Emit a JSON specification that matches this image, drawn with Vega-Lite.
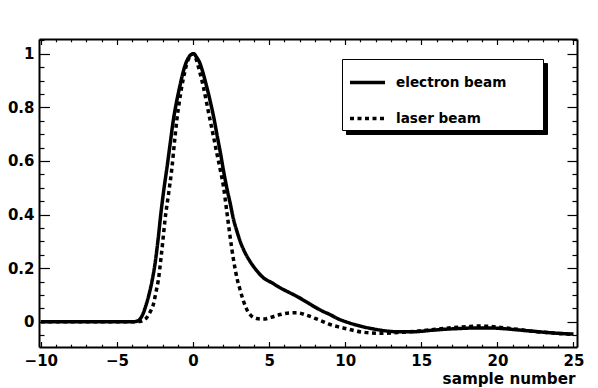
{
  "$schema": "https://vega.github.io/schema/vega-lite/v6.json",
  "width": 538,
  "height": 308,
  "autosize": "none",
  "padding": {"left": 39, "top": 39, "right": 21, "bottom": 41},
  "background": "white",
  "config": {
    "view": {"stroke": null},
    "font": "Liberation Sans",
    "axis": {
      "domainColor": "black",
      "domainWidth": 2,
      "tickColor": "black",
      "tickWidth": 1.2,
      "labelFont": "DejaVu Sans",
      "labelFontWeight": "bold",
      "labelFontSize": 15,
      "labelColor": "black",
      "labelOverlap": false,
      "labelFlush": false,
      "grid": false,
      "titleFont": "DejaVu Sans",
      "titleFontWeight": "bold",
      "titleColor": "black"
    }
  },
  "data": {
    "values": [
      {"beam": "electron beam", "x": -10, "y": 0},
      {"beam": "electron beam", "x": -8, "y": 0},
      {"beam": "electron beam", "x": -6, "y": 0},
      {"beam": "electron beam", "x": -4.5, "y": 0},
      {"beam": "electron beam", "x": -4, "y": 0},
      {"beam": "electron beam", "x": -3.7, "y": 0.002},
      {"beam": "electron beam", "x": -3.5, "y": 0.009},
      {"beam": "electron beam", "x": -3.3, "y": 0.028},
      {"beam": "electron beam", "x": -3.1, "y": 0.06},
      {"beam": "electron beam", "x": -2.9, "y": 0.1},
      {"beam": "electron beam", "x": -2.7, "y": 0.15},
      {"beam": "electron beam", "x": -2.5, "y": 0.215},
      {"beam": "electron beam", "x": -2.3, "y": 0.305},
      {"beam": "electron beam", "x": -2.1, "y": 0.41},
      {"beam": "electron beam", "x": -1.9, "y": 0.5},
      {"beam": "electron beam", "x": -1.7, "y": 0.58},
      {"beam": "electron beam", "x": -1.5, "y": 0.665},
      {"beam": "electron beam", "x": -1.3, "y": 0.75},
      {"beam": "electron beam", "x": -1.1, "y": 0.815},
      {"beam": "electron beam", "x": -0.9, "y": 0.87},
      {"beam": "electron beam", "x": -0.7, "y": 0.92},
      {"beam": "electron beam", "x": -0.5, "y": 0.96},
      {"beam": "electron beam", "x": -0.3, "y": 0.985},
      {"beam": "electron beam", "x": -0.1, "y": 0.998},
      {"beam": "electron beam", "x": 0.05, "y": 1.0},
      {"beam": "electron beam", "x": 0.2, "y": 0.99},
      {"beam": "electron beam", "x": 0.45, "y": 0.965},
      {"beam": "electron beam", "x": 0.7, "y": 0.92},
      {"beam": "electron beam", "x": 0.9, "y": 0.877},
      {"beam": "electron beam", "x": 1.1, "y": 0.83},
      {"beam": "electron beam", "x": 1.35, "y": 0.766},
      {"beam": "electron beam", "x": 1.6, "y": 0.69},
      {"beam": "electron beam", "x": 1.8, "y": 0.63},
      {"beam": "electron beam", "x": 2.0, "y": 0.565},
      {"beam": "electron beam", "x": 2.2, "y": 0.505},
      {"beam": "electron beam", "x": 2.45, "y": 0.44},
      {"beam": "electron beam", "x": 2.65, "y": 0.385},
      {"beam": "electron beam", "x": 2.9, "y": 0.335},
      {"beam": "electron beam", "x": 3.1, "y": 0.3},
      {"beam": "electron beam", "x": 3.4, "y": 0.26},
      {"beam": "electron beam", "x": 3.75, "y": 0.225},
      {"beam": "electron beam", "x": 4.2, "y": 0.19},
      {"beam": "electron beam", "x": 4.63, "y": 0.164},
      {"beam": "electron beam", "x": 5.2, "y": 0.145},
      {"beam": "electron beam", "x": 5.72, "y": 0.127},
      {"beam": "electron beam", "x": 6.3, "y": 0.11},
      {"beam": "electron beam", "x": 6.82, "y": 0.095},
      {"beam": "electron beam", "x": 7.4, "y": 0.076},
      {"beam": "electron beam", "x": 7.92, "y": 0.058},
      {"beam": "electron beam", "x": 8.5, "y": 0.04},
      {"beam": "electron beam", "x": 9.0, "y": 0.027},
      {"beam": "electron beam", "x": 9.5, "y": 0.012},
      {"beam": "electron beam", "x": 10.1, "y": -0.001},
      {"beam": "electron beam", "x": 10.6, "y": -0.01},
      {"beam": "electron beam", "x": 11.2, "y": -0.019},
      {"beam": "electron beam", "x": 11.8, "y": -0.026},
      {"beam": "electron beam", "x": 12.3, "y": -0.031},
      {"beam": "electron beam", "x": 13.4, "y": -0.037},
      {"beam": "electron beam", "x": 14.5, "y": -0.037},
      {"beam": "electron beam", "x": 15.6, "y": -0.032},
      {"beam": "electron beam", "x": 16.5, "y": -0.028},
      {"beam": "electron beam", "x": 17.5, "y": -0.025},
      {"beam": "electron beam", "x": 18.5, "y": -0.023},
      {"beam": "electron beam", "x": 19.5, "y": -0.023},
      {"beam": "electron beam", "x": 20.5, "y": -0.026},
      {"beam": "electron beam", "x": 21.5, "y": -0.031},
      {"beam": "electron beam", "x": 22.5, "y": -0.036},
      {"beam": "electron beam", "x": 23.5, "y": -0.041},
      {"beam": "electron beam", "x": 24.3, "y": -0.044},
      {"beam": "electron beam", "x": 25, "y": -0.046},
      {"beam": "laser beam", "x": -10, "y": 0},
      {"beam": "laser beam", "x": -8, "y": 0},
      {"beam": "laser beam", "x": -6, "y": 0},
      {"beam": "laser beam", "x": -4.5, "y": 0},
      {"beam": "laser beam", "x": -4, "y": 0},
      {"beam": "laser beam", "x": -3.5, "y": 0.001},
      {"beam": "laser beam", "x": -3.2, "y": 0.008},
      {"beam": "laser beam", "x": -3.05, "y": 0.015},
      {"beam": "laser beam", "x": -2.9, "y": 0.028},
      {"beam": "laser beam", "x": -2.72, "y": 0.048},
      {"beam": "laser beam", "x": -2.6, "y": 0.066},
      {"beam": "laser beam", "x": -2.5, "y": 0.092},
      {"beam": "laser beam", "x": -2.4, "y": 0.12},
      {"beam": "laser beam", "x": -2.28, "y": 0.155},
      {"beam": "laser beam", "x": -2.1, "y": 0.24},
      {"beam": "laser beam", "x": -1.95, "y": 0.32},
      {"beam": "laser beam", "x": -1.84, "y": 0.38},
      {"beam": "laser beam", "x": -1.6, "y": 0.48},
      {"beam": "laser beam", "x": -1.4, "y": 0.567},
      {"beam": "laser beam", "x": -1.2, "y": 0.68},
      {"beam": "laser beam", "x": -1.07, "y": 0.75},
      {"beam": "laser beam", "x": -0.9, "y": 0.82},
      {"beam": "laser beam", "x": -0.74, "y": 0.877},
      {"beam": "laser beam", "x": -0.55, "y": 0.93},
      {"beam": "laser beam", "x": -0.41, "y": 0.963},
      {"beam": "laser beam", "x": -0.2, "y": 0.99},
      {"beam": "laser beam", "x": 0, "y": 1.0},
      {"beam": "laser beam", "x": 0.2, "y": 0.98},
      {"beam": "laser beam", "x": 0.45, "y": 0.93},
      {"beam": "laser beam", "x": 0.68, "y": 0.877},
      {"beam": "laser beam", "x": 0.9, "y": 0.815},
      {"beam": "laser beam", "x": 1.12, "y": 0.753},
      {"beam": "laser beam", "x": 1.35, "y": 0.69},
      {"beam": "laser beam", "x": 1.56, "y": 0.63},
      {"beam": "laser beam", "x": 1.8, "y": 0.565},
      {"beam": "laser beam", "x": 2.0, "y": 0.505},
      {"beam": "laser beam", "x": 2.2, "y": 0.42},
      {"beam": "laser beam", "x": 2.43, "y": 0.32},
      {"beam": "laser beam", "x": 2.65, "y": 0.235},
      {"beam": "laser beam", "x": 2.9, "y": 0.16},
      {"beam": "laser beam", "x": 3.09, "y": 0.12},
      {"beam": "laser beam", "x": 3.3, "y": 0.08},
      {"beam": "laser beam", "x": 3.5, "y": 0.05},
      {"beam": "laser beam", "x": 3.75, "y": 0.027},
      {"beam": "laser beam", "x": 4.2, "y": 0.012},
      {"beam": "laser beam", "x": 4.63, "y": 0.01},
      {"beam": "laser beam", "x": 5.2, "y": 0.018},
      {"beam": "laser beam", "x": 5.72, "y": 0.027},
      {"beam": "laser beam", "x": 6.3, "y": 0.033},
      {"beam": "laser beam", "x": 6.82, "y": 0.034},
      {"beam": "laser beam", "x": 7.4, "y": 0.026},
      {"beam": "laser beam", "x": 7.92, "y": 0.015},
      {"beam": "laser beam", "x": 8.5, "y": 0.002},
      {"beam": "laser beam", "x": 9.0, "y": -0.01},
      {"beam": "laser beam", "x": 9.5, "y": -0.018},
      {"beam": "laser beam", "x": 10.1, "y": -0.026},
      {"beam": "laser beam", "x": 10.6, "y": -0.033},
      {"beam": "laser beam", "x": 11.2, "y": -0.039},
      {"beam": "laser beam", "x": 12.3, "y": -0.043},
      {"beam": "laser beam", "x": 13.4, "y": -0.04},
      {"beam": "laser beam", "x": 14.5, "y": -0.036},
      {"beam": "laser beam", "x": 15.8, "y": -0.029},
      {"beam": "laser beam", "x": 17, "y": -0.022},
      {"beam": "laser beam", "x": 18, "y": -0.018},
      {"beam": "laser beam", "x": 18.7, "y": -0.016},
      {"beam": "laser beam", "x": 19.5, "y": -0.017},
      {"beam": "laser beam", "x": 20.2, "y": -0.021},
      {"beam": "laser beam", "x": 21.3, "y": -0.028},
      {"beam": "laser beam", "x": 22.4, "y": -0.036},
      {"beam": "laser beam", "x": 23.5, "y": -0.041},
      {"beam": "laser beam", "x": 25, "y": -0.047}
    ]
  },
  "layer": [
    {
      "mark": {"type": "line", "interpolate": "monotone", "strokeOpacity": 0, "strokeWidth": 1},
      "encoding": {
        "x": {
          "field": "x", "type": "quantitative",
          "scale": {"domain": [-10.12, 25.23], "nice": false, "zero": false},
          "axis": {
            "orient": "top", "title": null, "labels": false,
            "values": [-10,-9,-8,-7,-6,-5,-4,-3,-2,-1,0,1,2,3,4,5,6,7,8,9,10,11,12,13,14,15,16,17,18,19,20,21,22,23,24,25],
            "tickSize": {"condition": {"test": "datum.value % 5 == 0", "value": -5.5}, "value": -2.8}
          }
        },
        "y": {
          "field": "y", "type": "quantitative",
          "scale": {"domain": [-0.094, 1.055], "nice": false, "zero": false},
          "axis": {
            "orient": "right", "title": null, "labels": false,
            "values": [-0.05,0,0.05,0.1,0.15,0.2,0.25,0.3,0.35,0.4,0.45,0.5,0.55,0.6,0.65,0.7,0.75,0.8,0.85,0.9,0.95,1,1.05],
            "tickSize": {"condition": {"test": "abs(round(datum.value*20)) % 4 == 0", "value": -10}, "value": -5}
          }
        },
        "color": {
          "field": "beam", "type": "nominal",
          "scale": {"domain": ["laser beam", "electron beam"], "range": ["black", "black"]},
          "legend": {
            "orient": "none", "legendX": 307, "legendY": 24, "zindex": 1,
            "title": " ", "titleOrient": "left", "titlePadding": 143, "titleFontSize": 16, "titleColor": "black",
            "labelExpr": "''",
            "labelFont": "DejaVu Sans", "labelFontWeight": "bold", "labelFontSize": 13.6, "labelColor": "black",
            "symbolType": "stroke", "symbolSize": 1225, "symbolStrokeWidth": 3.5, "symbolStrokeColor": "black",
            "symbolOffset": 2, "labelOffset": 9, "rowPadding": 9, "padding": 4,
            "strokeColor": "black", "fillColor": "black"
          }
        }
      }
    },
    {
      "mark": {"type": "line", "interpolate": "monotone", "strokeWidth": 3.5, "color": "black", "strokeCap": "butt"},
      "encoding": {
        "x": {
          "field": "x", "type": "quantitative",
          "scale": {"domain": [-10.12, 25.23], "nice": false, "zero": false},
          "axis": {
            "orient": "bottom", "title": "sample number",
            "titleFontSize": 15.2, "titleAnchor": "end", "titleAlign": "right", "titleBaseline": "alphabetic",
            "titleX": 536, "titleY": 36.5,
            "values": [-10,-9,-8,-7,-6,-5,-4,-3,-2,-1,0,1,2,3,4,5,6,7,8,9,10,11,12,13,14,15,16,17,18,19,20,21,22,23,24,25],
            "format": "d",
            "labelExpr": "datum.value % 5 == 0 ? datum.label : ''",
            "labelPadding": 12,
            "labelBaseline": "top",
            "tickSize": {"condition": {"test": "datum.value % 5 == 0", "value": -5.5}, "value": -2.8}
          }
        },
        "y": {
          "field": "y", "type": "quantitative",
          "scale": {"domain": [-0.094, 1.055], "nice": false, "zero": false},
          "axis": {
            "orient": "left", "title": null,
            "values": [-0.05,0,0.05,0.1,0.15,0.2,0.25,0.3,0.35,0.4,0.45,0.5,0.55,0.6,0.65,0.7,0.75,0.8,0.85,0.9,0.95,1,1.05],
            "format": "~g",
            "labelExpr": "abs(round(datum.value*20)) % 4 == 0 ? datum.label : ''",
            "labelPadding": 15.5,
            "labelBaseline": "middle",
            "tickSize": {"condition": {"test": "abs(round(datum.value*20)) % 4 == 0", "value": -10.5}, "value": -5}
          }
        },
        "strokeDash": {
          "field": "beam", "type": "nominal",
          "scale": {"domain": ["electron beam", "laser beam"], "range": [[1, 0], [4, 3.5]]},
          "legend": {
            "orient": "none", "legendX": 303, "legendY": 20, "zindex": 2,
            "title": " ", "titleOrient": "right", "titlePadding": 33, "titleFontSize": 16, "titleColor": "black",
            "labelFont": "DejaVu Sans", "labelFontWeight": "bold", "labelFontSize": 13.6, "labelColor": "black",
            "symbolType": "stroke", "symbolSize": 1225, "symbolStrokeWidth": 3.5, "symbolStrokeColor": "black",
            "symbolOffset": 2, "labelOffset": 9, "rowPadding": 9, "padding": 4,
            "strokeColor": "black", "fillColor": "white"
          }
        }
      }
    }
  ],
  "resolve": {"axis": {"x": "independent", "y": "independent"}}
}
